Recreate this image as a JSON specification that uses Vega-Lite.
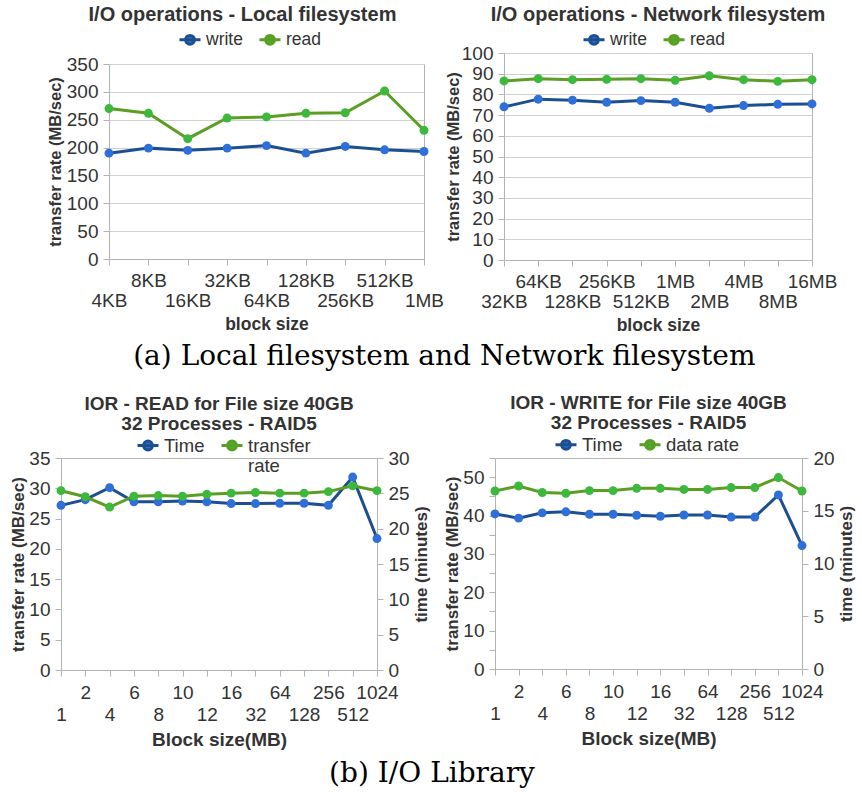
{
  "$schema": "https://vega.github.io/schema/vega-lite/v6.json",
  "padding": {"left": 9, "top": 4, "right": 2, "bottom": 2},
  "config": {
    "font": "Liberation Sans",
    "view": {"stroke": "#b3b3b3", "strokeWidth": 1},
    "axis": {"labelColor": "#333333", "titleColor": "#333333", "domainColor": "#b3b3b3", "tickColor": "#b3b3b3", "gridColor": "#d0d0d0", "titleFontWeight": "bold", "tickSize": 6, "labelFont": "Liberation Sans", "titleFont": "Liberation Sans"},
    "axisX": {"grid": false, "labelAngle": 0},
    "legend": {"labelColor": "#333333", "labelFont": "Liberation Sans", "padding": 0},
    "title": {"color": "#333333", "font": "Liberation Sans", "fontWeight": "bold", "anchor": "middle"}
  },
  "datasets": {
    "local": [
      {"block": "4KB", "write": 190, "read": 270},
      {"block": "8KB", "write": 199, "read": 261.5},
      {"block": "16KB", "write": 195, "read": 216},
      {"block": "32KB", "write": 199, "read": 253},
      {"block": "64KB", "write": 203.5, "read": 255},
      {"block": "128KB", "write": 190, "read": 261.5},
      {"block": "256KB", "write": 202, "read": 262.5},
      {"block": "512KB", "write": 196, "read": 301.5},
      {"block": "1MB", "write": 193, "read": 231}
    ],
    "network": [
      {"block": "32KB", "write": 74, "read": 86.5},
      {"block": "64KB", "write": 77.7, "read": 87.6},
      {"block": "128KB", "write": 77.2, "read": 87.1},
      {"block": "256KB", "write": 76.2, "read": 87.3},
      {"block": "512KB", "write": 77, "read": 87.6},
      {"block": "1MB", "write": 76.2, "read": 86.8},
      {"block": "2MB", "write": 73.3, "read": 89},
      {"block": "4MB", "write": 74.6, "read": 87.1},
      {"block": "8MB", "write": 75.2, "read": 86.3},
      {"block": "16MB", "write": 75.4, "read": 87.1}
    ],
    "ior_read": [
      {"block": "1", "rate": 29.6, "time": 23.3},
      {"block": "2", "rate": 28.6, "time": 24.1},
      {"block": "4", "rate": 26.9, "time": 25.8},
      {"block": "6", "rate": 28.7, "time": 23.8},
      {"block": "8", "rate": 28.8, "time": 23.8},
      {"block": "10", "rate": 28.7, "time": 23.9},
      {"block": "12", "rate": 29.0, "time": 23.8},
      {"block": "16", "rate": 29.2, "time": 23.55},
      {"block": "32", "rate": 29.3, "time": 23.55},
      {"block": "64", "rate": 29.2, "time": 23.6},
      {"block": "128", "rate": 29.2, "time": 23.6},
      {"block": "256", "rate": 29.45, "time": 23.3},
      {"block": "512", "rate": 30.4, "time": 27.3},
      {"block": "1024", "rate": 29.6, "time": 18.6}
    ],
    "ior_write": [
      {"block": "1", "rate": 46.4, "time": 14.7},
      {"block": "2", "rate": 47.7, "time": 14.3},
      {"block": "4", "rate": 46.0, "time": 14.8},
      {"block": "6", "rate": 45.8, "time": 14.9},
      {"block": "8", "rate": 46.5, "time": 14.67},
      {"block": "10", "rate": 46.5, "time": 14.67},
      {"block": "12", "rate": 47.1, "time": 14.57},
      {"block": "16", "rate": 47.1, "time": 14.48},
      {"block": "32", "rate": 46.8, "time": 14.6},
      {"block": "64", "rate": 46.8, "time": 14.6},
      {"block": "128", "rate": 47.3, "time": 14.4},
      {"block": "256", "rate": 47.3, "time": 14.4},
      {"block": "512", "rate": 49.9, "time": 16.5},
      {"block": "1024", "rate": 46.4, "time": 11.7}
    ]
  },
  "spacing": 22,
  "resolve": {"scale": {"color": "independent", "fill": "independent"}},
  "vconcat": [
    {
      "title": {"text": "(a) Local filesystem and Network filesystem", "orient": "bottom", "font": "DejaVu Serif", "fontWeight": "normal", "fontSize": 28, "color": "#000000", "offset": 9, "anchor": "middle", "frame": "bounds", "dx": 2},
      "spacing": 0,
      "resolve": {"scale": {"color": "independent", "fill": "independent"}},
      "hconcat": [
        {
          "width": 363, "height": 206,
          "view": {"stroke": null},
          "title": {"text": "I/O operations - Local filesystem", "fontSize": 20, "offset": 3, "frame": "group"},
          "data": {"name": "local"},
          "transform": [{"fold": ["write", "read"], "as": ["series", "value"]}],
          "encoding": {
            "x": {"field": "block", "type": "ordinal", "sort": null, "scale": {"type": "point", "padding": 0, "range": [48, 363]},
              "axis": {"title": "block size", "titleFontSize": 17.5, "labelFontSize": 19, "labelLineHeight": 20, "labelPadding": 6, "titlePadding": 5,
                "labelExpr": "indexof(['4KB','16KB','64KB','256KB','1MB'], datum.value) >= 0 ? [' ', datum.label] : datum.label"}}
          },
          "layer": [
            {
              "encoding": {
                "y": {"field": "value", "type": "quantitative", "scale": {"domain": [0, 350], "range": [206, 11]},
                  "axis": {"title": "transfer rate (MB/sec)", "offset": -48, "values": [0, 50, 100, 150, 200, 250, 300, 350], "labelFontSize": 19, "titleFontSize": 16.5, "labelPadding": 5, "titlePadding": 3}}
              },
              "layer": [
                {"mark": {"type": "line", "strokeWidth": 3},
                  "encoding": {"color": {"field": "series", "type": "nominal", "scale": {"domain": ["write", "read"], "range": ["#1c4f8f", "#5a9e23"]},
                    "legend": {"orient": "none", "legendX": 117, "legendY": -25.5, "direction": "horizontal", "title": null,
                      "symbolType": "M-1,0L1,0M-0.42,0A0.42,0.42,0,1,1,0.42,0A0.42,0.42,0,1,1,-0.42,0Z", "symbolSize": 441, "symbolStrokeWidth": 3,
                      "labelFontSize": 17.5, "labelOffset": 4, "columnPadding": 10}}}},
                {"mark": {"type": "point", "filled": true, "size": 80, "opacity": 1},
                  "encoding": {"fill": {"field": "series", "type": "nominal", "scale": {"domain": ["write", "read"], "range": ["#2e6fd9", "#3cb83c"]}, "legend": null}}}
              ]
            },
            {
              "mark": {"type": "point", "opacity": 0},
              "encoding": {
                "y": {"field": "value", "type": "quantitative", "axis": {"orient": "right", "labels": false, "ticks": false, "grid": false, "title": null}}
              }
            }
          ],
          "resolve": {"axis": {"y": "independent"}}
        },
        {
          "width": 308, "height": 207,
          "title": {"text": "I/O operations - Network filesystem", "fontSize": 20, "offset": 3, "frame": "group"},
          "data": {"name": "network"},
          "transform": [{"fold": ["write", "read"], "as": ["series", "value"]}],
          "encoding": {
            "x": {"field": "block", "type": "ordinal", "sort": null, "scale": {"type": "point", "padding": 0},
              "axis": {"title": "block size", "titleFontSize": 17.5, "labelFontSize": 19, "labelLineHeight": 20, "labelPadding": 6, "titlePadding": 5,
                "labelExpr": "indexof(['32KB','128KB','512KB','2MB','8MB'], datum.value) >= 0 ? [' ', datum.label] : datum.label"}},
            "y": {"field": "value", "type": "quantitative", "scale": {"domain": [0, 100]},
              "axis": {"title": "transfer rate (MB/sec)", "values": [0, 10, 20, 30, 40, 50, 60, 70, 80, 90, 100], "labelFontSize": 19, "titleFontSize": 16.5, "labelPadding": 5, "titlePadding": 0}}
          },
          "layer": [
            {"mark": {"type": "line", "strokeWidth": 3},
              "encoding": {"color": {"field": "series", "type": "nominal", "scale": {"domain": ["write", "read"], "range": ["#1c4f8f", "#5a9e23"]},
                "legend": {"orient": "none", "legendX": 78, "legendY": -25.5, "direction": "horizontal", "title": null,
                  "symbolType": "M-1,0L1,0M-0.42,0A0.42,0.42,0,1,1,0.42,0A0.42,0.42,0,1,1,-0.42,0Z", "symbolSize": 441, "symbolStrokeWidth": 3,
                  "labelFontSize": 17.5, "labelOffset": 4, "columnPadding": 10}}}},
            {"mark": {"type": "point", "filled": true, "size": 80, "opacity": 1},
              "encoding": {"fill": {"field": "series", "type": "nominal", "scale": {"domain": ["write", "read"], "range": ["#2e6fd9", "#3cb83c"]}, "legend": null}}}
          ]
        }
      ]
    },
    {
      "title": {"text": "(b) I/O Library", "orient": "bottom", "font": "DejaVu Serif", "fontWeight": "normal", "fontSize": 28, "color": "#000000", "offset": 10, "anchor": "middle", "frame": "bounds"},
      "spacing": 13,
      "resolve": {"scale": {"color": "independent", "fill": "independent"}},
      "hconcat": [
        {
          "width": 316, "height": 212,
          "title": {"text": ["IOR - READ for File size 40GB", "32 Processes - RAID5"], "fontSize": 19, "lineHeight": 20, "offset": 0, "frame": "group"},
          "data": {"name": "ior_read"},
          "encoding": {
            "x": {"field": "block", "type": "ordinal", "sort": null, "scale": {"type": "point", "padding": 0},
              "axis": {"title": "Block size(MB)", "titleFontSize": 19, "labelFontSize": 19, "labelLineHeight": 22, "labelPadding": 7, "titlePadding": 6,
                "labelExpr": "indexof(['1','4','8','12','32','128','512'], datum.value) >= 0 ? [' ', datum.label] : datum.label"}}
          },
          "layer": [
            {
              "encoding": {"y": {"field": "time", "type": "quantitative", "scale": {"domain": [0, 30]},
                "axis": {"orient": "right", "grid": false, "values": [0, 5, 10, 15, 20, 25, 30], "title": "time (minutes)", "titleAngle": 270, "titleBaseline": "top", "labelFontSize": 19, "titleFontSize": 17, "labelPadding": 5, "titlePadding": 4}}},
              "layer": [
                {"mark": {"type": "line", "strokeWidth": 3},
                  "encoding": {"color": {"datum": "Time", "type": "nominal", "scale": {"domain": ["Time", "transfer rate"], "range": ["#1c4f8f", "#5a9e23"]},
                    "legend": {"orient": "none", "legendX": 75, "legendY": -24.5, "direction": "horizontal", "title": null,
                      "symbolType": "M-1,0L1,0M-0.42,0A0.42,0.42,0,1,1,0.42,0A0.42,0.42,0,1,1,-0.42,0Z", "symbolSize": 441, "symbolStrokeWidth": 3,
                      "labelFontSize": 18.5, "labelOffset": 4, "columnPadding": 10,
                      "labelExpr": "datum.value == 'transfer rate' ? ['transfer', 'rate'] : [datum.label, ' ']"}}}},
                {"mark": {"type": "point", "filled": true, "size": 80, "opacity": 1},
                  "encoding": {"fill": {"datum": "Time", "type": "nominal", "scale": {"domain": ["Time", "transfer rate"], "range": ["#2e6fd9", "#3cb83c"]}, "legend": null}}}
              ]
            },
            {
              "encoding": {"y": {"field": "rate", "type": "quantitative", "scale": {"domain": [0, 35]},
                "axis": {"orient": "left", "values": [0, 5, 10, 15, 20, 25, 30, 35], "title": "transfer rate (MB/sec)", "labelFontSize": 19, "titleFontSize": 17, "labelPadding": 5, "titlePadding": 1}}},
              "layer": [
                {"mark": {"type": "line", "strokeWidth": 3},
                  "encoding": {"color": {"datum": "transfer rate", "type": "nominal", "scale": {"domain": ["Time", "transfer rate"], "range": ["#1c4f8f", "#5a9e23"]}}}},
                {"mark": {"type": "point", "filled": true, "size": 80, "opacity": 1},
                  "encoding": {"fill": {"datum": "transfer rate", "type": "nominal", "scale": {"domain": ["Time", "transfer rate"], "range": ["#2e6fd9", "#3cb83c"]}, "legend": null}}}
              ]
            }
          ],
          "resolve": {"scale": {"y": "independent"}}
        },
        {
          "width": 307, "height": 211,
          "title": {"text": ["IOR - WRITE for File size 40GB", "32 Processes - RAID5"], "fontSize": 19, "lineHeight": 20, "offset": 0, "frame": "group"},
          "data": {"name": "ior_write"},
          "encoding": {
            "x": {"field": "block", "type": "ordinal", "sort": null, "scale": {"type": "point", "padding": 0},
              "axis": {"title": "Block size(MB)", "titleFontSize": 19, "labelFontSize": 19, "labelLineHeight": 22, "labelPadding": 7, "titlePadding": 6,
                "labelExpr": "indexof(['1','4','8','12','32','128','512'], datum.value) >= 0 ? [' ', datum.label] : datum.label"}}
          },
          "layer": [
            {
              "encoding": {"y": {"field": "time", "type": "quantitative", "scale": {"domain": [0, 20]},
                "axis": {"orient": "right", "grid": false, "values": [0, 5, 10, 15, 20], "title": "time (minutes)", "titleAngle": 270, "titleBaseline": "top", "labelFontSize": 19, "titleFontSize": 17, "labelPadding": 5, "titlePadding": 4}}},
              "layer": [
                {"mark": {"type": "line", "strokeWidth": 3},
                  "encoding": {"color": {"datum": "Time", "type": "nominal", "scale": {"domain": ["Time", "data rate"], "range": ["#1c4f8f", "#5a9e23"]},
                    "legend": {"orient": "none", "legendX": 59, "legendY": -25.5, "direction": "horizontal", "title": null,
                      "symbolType": "M-1,0L1,0M-0.42,0A0.42,0.42,0,1,1,0.42,0A0.42,0.42,0,1,1,-0.42,0Z", "symbolSize": 441, "symbolStrokeWidth": 3,
                      "labelFontSize": 18.5, "labelOffset": 4, "columnPadding": 10}}}},
                {"mark": {"type": "point", "filled": true, "size": 80, "opacity": 1},
                  "encoding": {"fill": {"datum": "Time", "type": "nominal", "scale": {"domain": ["Time", "data rate"], "range": ["#2e6fd9", "#3cb83c"]}, "legend": null}}}
              ]
            },
            {
              "encoding": {"y": {"field": "rate", "type": "quantitative", "scale": {"domain": [0, 55]},
                "axis": {"orient": "left", "values": [0, 5, 10, 15, 20, 25, 30, 35, 40, 45, 50, 55], "labelExpr": "datum.value % 10 === 0 ? datum.label : ''", "title": "transfer rate (MB/sec)", "labelFontSize": 19, "titleFontSize": 17, "labelPadding": 5, "titlePadding": 1}}},
              "layer": [
                {"mark": {"type": "line", "strokeWidth": 3},
                  "encoding": {"color": {"datum": "data rate", "type": "nominal", "scale": {"domain": ["Time", "data rate"], "range": ["#1c4f8f", "#5a9e23"]}}}},
                {"mark": {"type": "point", "filled": true, "size": 80, "opacity": 1},
                  "encoding": {"fill": {"datum": "data rate", "type": "nominal", "scale": {"domain": ["Time", "data rate"], "range": ["#2e6fd9", "#3cb83c"]}, "legend": null}}}
              ]
            }
          ],
          "resolve": {"scale": {"y": "independent"}}
        }
      ]
    }
  ]
}
